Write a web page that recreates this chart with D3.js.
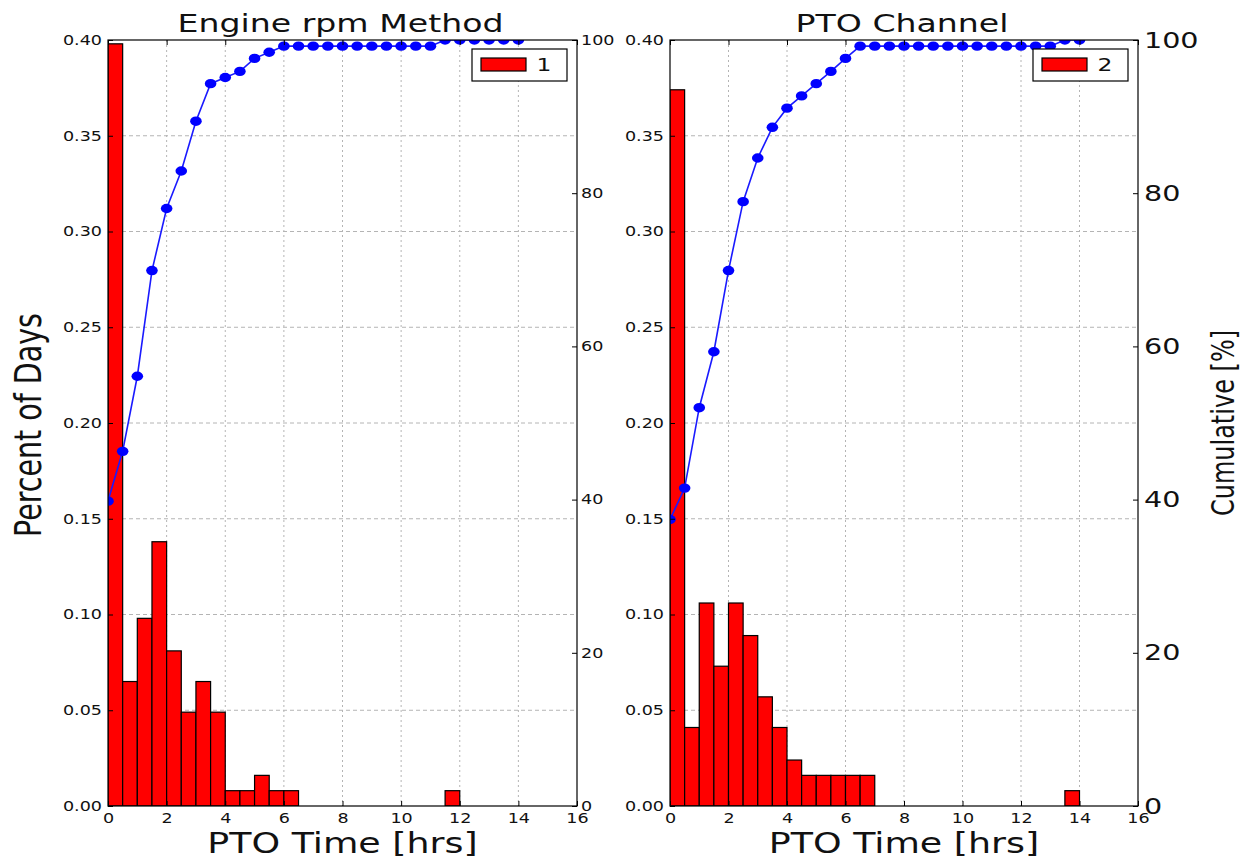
<!DOCTYPE html>
<html>
<head>
<meta charset="utf-8">
<script src="https://cdn.jsdelivr.net/npm/d3@7"></script>
<style>
  html, body { margin: 0; padding: 0; background: #fff; }
  svg { display: block; }
  text { font-family: "DejaVu Sans", sans-serif; fill: #111; }
</style>
</head>
<body>
<svg id="chart" width="1243" height="861"></svg>
<script>
// ---------- data ----------
const binStart = [0,0.5,1,1.5,2,2.5,3,3.5,4,4.5,5,5.5,6,6.5,7,7.5,8,8.5,9,9.5,10,10.5,11,11.5,12,12.5,13,13.5,14];
const binWidth = 0.5;
const engineShare = [0.398,0.065,0.098,0.138,0.081,0.049,0.065,0.049,0.008,0.008,0.016,0.008,0.008,0,0,0,0,0,0,0,0,0,0,0.008,0,0,0,0,0];
const engineCum   = [39.8,46.3,56.1,69.9,78.0,82.9,89.4,94.3,95.1,95.9,97.6,98.4,99.2,99.2,99.2,99.2,99.2,99.2,99.2,99.2,99.2,99.2,99.2,100,100,100,100,100,100];
const ptoShare = [0.374,0.041,0.106,0.073,0.106,0.089,0.057,0.041,0.024,0.016,0.016,0.016,0.016,0.016,0,0,0,0,0,0,0,0,0,0,0,0,0,0.008,0];
const ptoCum   = [37.4,41.5,52.0,59.3,69.9,78.9,84.6,88.6,91.1,92.7,94.3,95.9,97.6,99.2,99.2,99.2,99.2,99.2,99.2,99.2,99.2,99.2,99.2,99.2,99.2,99.2,99.2,100,100];
const xTicks = [0,2,4,6,8,10,12,14,16];
const yTicks = [0,0.05,0.10,0.15,0.20,0.25,0.30,0.35,0.40];
const y2Ticks = [0,20,40,60,80,100];
const titles = ["Engine rpm Method", "PTO Channel"];
const legendLabels = ["1", "2"];
const xLabel = "PTO Time [hrs]";
const yLabel = "Percent of Days";
const y2Label = "Cumulative [%]";

// ---------- layout ----------
const SX = 1.3; // horizontal text stretch seen in the reference
const plotTop = 40, plotBottom = 806;
const panels = [
  {x0: 108, x1: 577, share: engineShare, cum: engineCum, bigRight: false},
  {x0: 670, x1: 1138, share: ptoShare, cum: ptoCum, bigRight: true}
];

const svg = d3.select("#chart");
const defs = svg.append("defs");

function stretchText(sel) {
  sel.each(function() {
    const t = d3.select(this);
    const x = +t.attr("x") || 0;
    const y = +t.attr("y") || 0;
    t.attr("x", null).attr("y", null)
     .attr("transform", `translate(${x},${y}) scale(${SX},1)`);
  });
}

panels.forEach((p, i) => {
  const x = d3.scaleLinear().domain([0, 16]).range([p.x0, p.x1]);
  const y = d3.scaleLinear().domain([0, 0.4]).range([plotBottom, plotTop]);
  const y2 = d3.scaleLinear().domain([0, 100]).range([plotBottom, plotTop]);
  const g = svg.append("g");

  defs.append("clipPath").attr("id", "clip" + i)
    .append("rect").attr("x", p.x0).attr("y", plotTop)
    .attr("width", p.x1 - p.x0).attr("height", plotBottom - plotTop);

  // grid
  const grid = g.append("g");
  grid.selectAll("line.h").data(yTicks.slice(1, -1)).join("line")
    .attr("x1", p.x0).attr("x2", p.x1)
    .attr("y1", d => y(d)).attr("y2", d => y(d))
    .attr("stroke", "#b4b4b4").attr("stroke-width", 1).attr("stroke-dasharray", "4,3");
  grid.selectAll("line.v").data(xTicks.slice(1, -1)).join("line")
    .attr("y1", plotTop).attr("y2", plotBottom)
    .attr("x1", d => x(d)).attr("x2", d => x(d))
    .attr("stroke", "#b4b4b4").attr("stroke-width", 1).attr("stroke-dasharray", "2,3");

  // bars
  const bars = binStart.map((b, k) => ({b, v: p.share[k]})).filter(d => d.v > 0);
  g.append("g").attr("clip-path", `url(#clip${i})`)
    .selectAll("rect").data(bars).join("rect")
    .attr("x", d => x(d.b)).attr("width", d => x(d.b + binWidth) - x(d.b))
    .attr("y", d => y(d.v)).attr("height", d => plotBottom - y(d.v))
    .attr("fill", "#ff0000").attr("stroke", "#000").attr("stroke-width", 1.2);

  // cumulative line
  const pts = binStart.map((b, k) => ({b, c: p.cum[k]}));
  const lg = g.append("g").attr("clip-path", `url(#clip${i})`);
  lg.append("path").datum(pts)
    .attr("d", d3.line().x(d => x(d.b)).y(d => y2(d.c)))
    .attr("fill", "none").attr("stroke", "#1a1aff").attr("stroke-width", 1.6);
  lg.selectAll("ellipse").data(pts).join("ellipse")
    .attr("cx", d => x(d.b)).attr("cy", d => y2(d.c))
    .attr("rx", 5.8).attr("ry", 4.7).attr("fill", "#0000ff");

  // spines
  g.append("rect").attr("x", p.x0).attr("y", plotTop)
    .attr("width", p.x1 - p.x0).attr("height", plotBottom - plotTop)
    .attr("fill", "none").attr("stroke", "#000").attr("stroke-width", 1.2);

  // axes
  const ax = g.append("g").attr("transform", `translate(0,${plotBottom})`)
    .call(d3.axisBottom(x).tickValues(xTicks).tickFormat(d3.format("d")).tickSize(-5).tickPadding(7));
  const axTop = g.append("g").attr("transform", `translate(0,${plotTop})`)
    .call(d3.axisTop(x).tickValues(xTicks).tickFormat("").tickSize(-5));
  const ay = g.append("g").attr("transform", `translate(${p.x0},0)`)
    .call(d3.axisLeft(y).tickValues(yTicks).tickFormat(d3.format(".2f")).tickSize(-5).tickPadding(6));
  const ay2 = g.append("g").attr("transform", `translate(${p.x1},0)`)
    .call(d3.axisRight(y2).tickValues(y2Ticks).tickFormat(d3.format("d")).tickSize(-5).tickPadding(p.bigRight ? 6 : 4));

  [ax, axTop, ay, ay2].forEach(a => {
    a.select(".domain").remove();
    a.selectAll(".tick line").attr("stroke", "#000").attr("stroke-width", 1);
    a.selectAll(".tick text").attr("font-family", "DejaVu Sans").attr("fill", "#222");
  });
  ax.selectAll(".tick text").attr("font-size", 13.5);
  ay.selectAll(".tick text").attr("font-size", 13.5);
  ay2.selectAll(".tick text").attr("font-size", p.bigRight ? 22 : 13.5);
  [ax, ay, ay2].forEach(a => stretchText(a.selectAll(".tick text")));

  // title
  g.append("text").attr("x", (p.x0 + p.x1) / 2 - 2).attr("y", 32)
    .attr("text-anchor", "middle").attr("font-size", 25.5).text(titles[i])
    .call(stretchText);
  // x label
  g.append("text").attr("x", (p.x0 + p.x1) / 2).attr("y", 853)
    .attr("text-anchor", "middle").attr("font-size", 28).text(xLabel)
    .call(stretchText);

  // legend
  const lx1 = p.x1 - 10, ly0 = 49;
  const lgd = g.append("g");
  lgd.append("rect").attr("x", lx1 - 95).attr("y", ly0).attr("width", 95).attr("height", 32)
    .attr("fill", "#fff").attr("stroke", "#000").attr("stroke-width", 1.2);
  lgd.append("rect").attr("x", lx1 - 86).attr("y", ly0 + 9).attr("width", 45).attr("height", 13)
    .attr("fill", "#ff0000").attr("stroke", "#000").attr("stroke-width", 1.2);
  lgd.append("text").attr("x", lx1 - 23).attr("y", ly0 + 22)
    .attr("text-anchor", "middle").attr("font-size", 18).attr("fill", "#222").text(legendLabels[i])
    .call(stretchText);
});

// y labels
svg.append("text").attr("transform", `translate(41,425) scale(${SX},1) rotate(-90)`)
  .attr("text-anchor", "middle").attr("font-size", 28.5).text(yLabel);
svg.append("text").attr("transform", `translate(1234,423) scale(${SX},1) rotate(-90)`)
  .attr("text-anchor", "middle").attr("font-size", 24).text(y2Label);
</script>
</body>
</html>
